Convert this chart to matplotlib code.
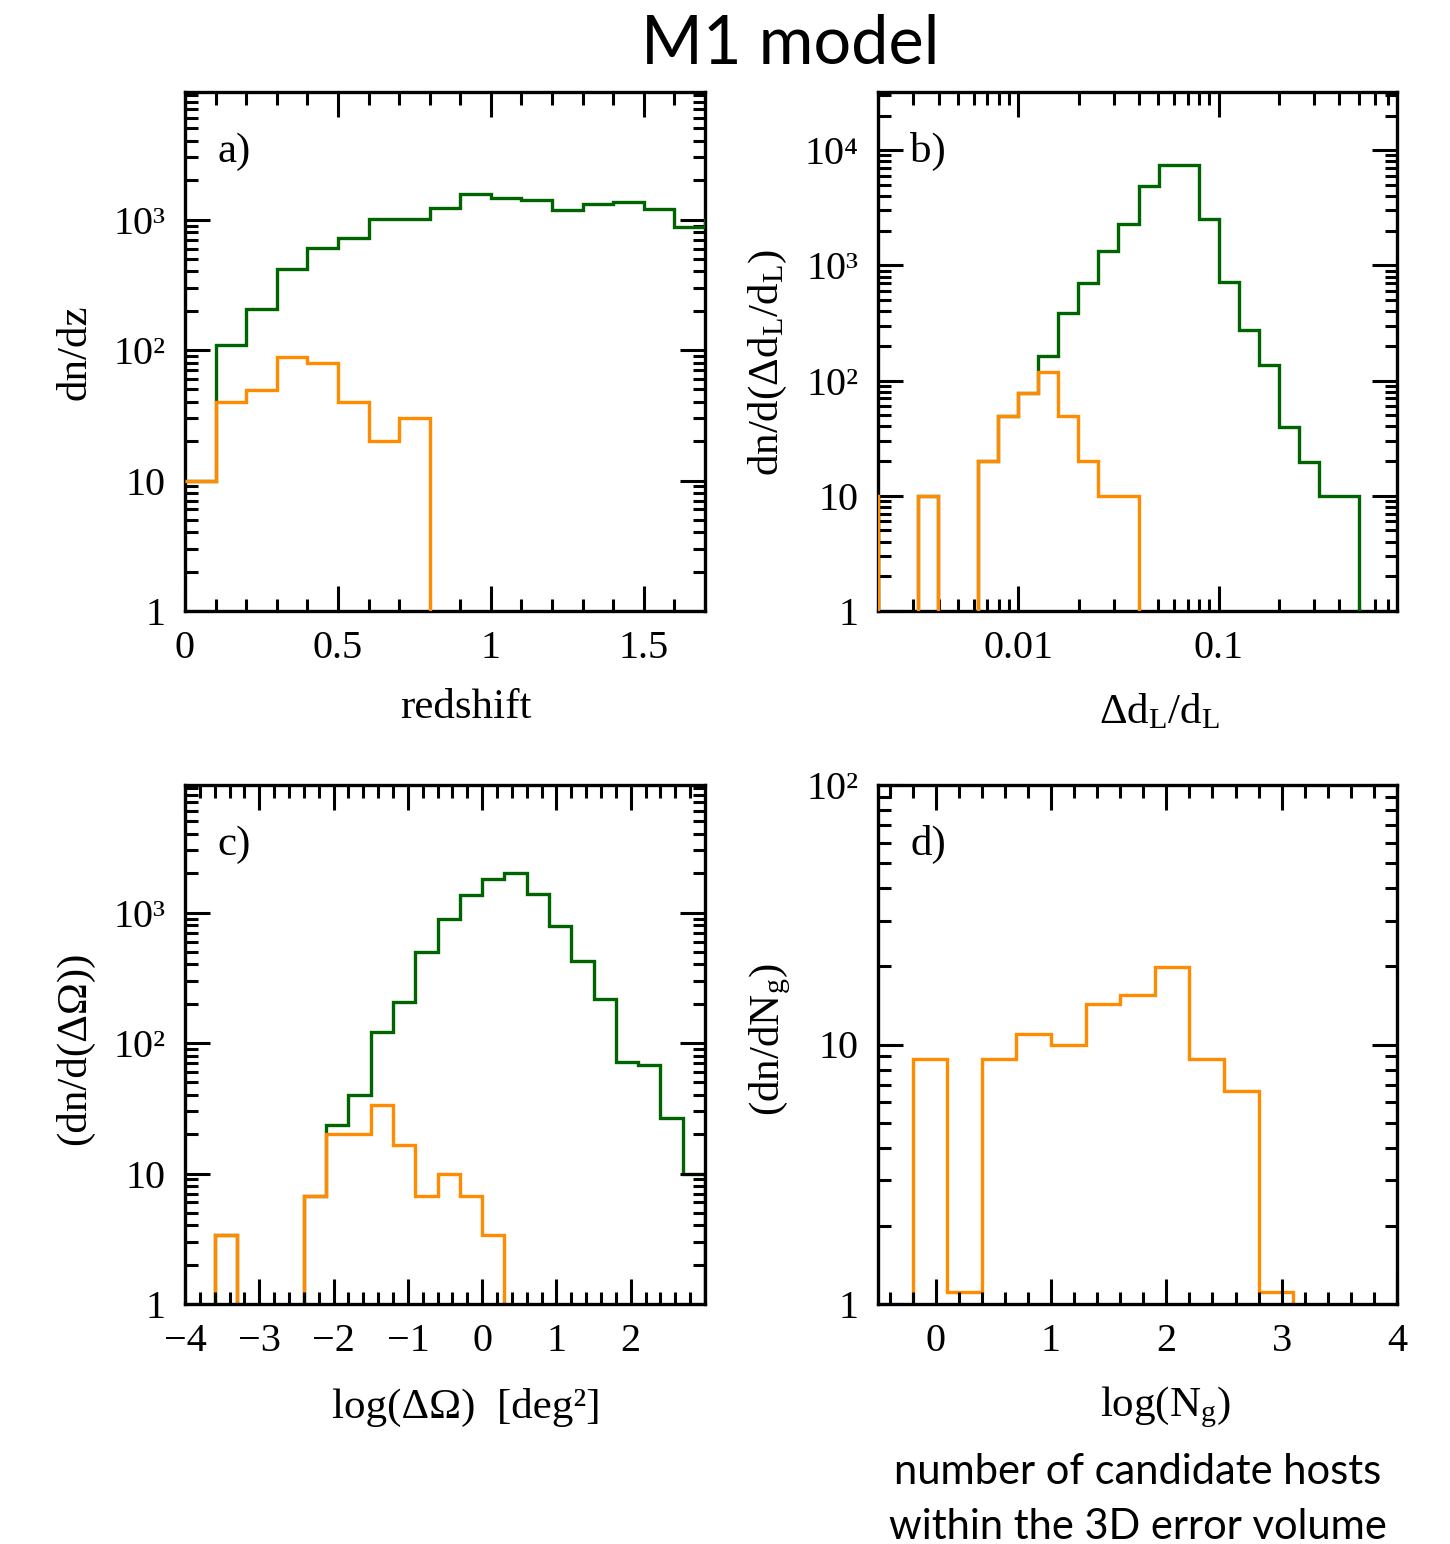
import numpy as np
import matplotlib
matplotlib.use('Agg')
import matplotlib.pyplot as plt
from matplotlib.ticker import MultipleLocator, LogLocator, FuncFormatter, NullFormatter

plt.rcParams['font.family'] = ['Liberation Serif', 'DejaVu Serif']
plt.rcParams['mathtext.fontset'] = 'custom'
plt.rcParams['mathtext.rm'] = 'Liberation Serif'
plt.rcParams['mathtext.it'] = 'Liberation Serif:italic'

GREEN = '#006400'
ORANGE = '#ff8c00'

# a) redshift distribution, bins of 0.1
z_edges = [0.0, 0.1, 0.2, 0.3, 0.4, 0.5, 0.6, 0.7, 0.8, 0.9, 1.0, 1.1, 1.2, 1.3, 1.4, 1.5, 1.6, 1.7, 1.8]
z_all = [10, 110, 208, 421, 606, 726, 1012, 1012, 1236, 1574, 1455, 1412, 1178, 1313, 1369, 1199, 871, 1000]
z_sel = [10, 40, 49, 89, 79, 40, 20, 30, 0, 0, 0, 0, 0, 0, 0, 0, 0, 0]

# b) relative distance error, log10 bin edges
dl_logedges = [-2.8, -2.7, -2.6, -2.5, -2.4, -2.3, -2.2, -2.1, -2.0, -1.9, -1.8, -1.7, -1.6,
               -1.5, -1.4, -1.3, -1.2, -1.1, -1.0, -0.9, -0.8, -0.7, -0.6, -0.5, -0.4, -0.3]
dl_all = [10, 0, 0, 10, 0, 0, 20, 49, 78, 164, 390, 700, 1327, 2301, 4930, 7510, 7410,
          2548, 724, 274, 136, 39.4, 19.5, 10, 10]
dl_sel = [10, 0, 0, 10, 0, 0, 20, 49, 78, 119, 49, 20, 10, 10, 0, 0, 0,
          0, 0, 0, 0, 0, 0, 0, 0]

# c) sky localisation
om_edges = [-3.6, -3.3, -3.0, -2.7, -2.4, -2.1, -1.8, -1.5, -1.2, -0.9, -0.6, -0.3, 0.0,
            0.3, 0.6, 0.9, 1.2, 1.5, 1.8, 2.1, 2.4, 2.7, 3.0]
om_all = [3.35, 0, 0, 0, 6.68, 23.5, 40, 121, 206, 495, 890, 1359, 1795, 2002, 1400, 789,
          423, 216, 71, 68, 26.5, 10]
om_sel = [3.35, 0, 0, 0, 6.68, 20, 20, 33.4, 16.6, 6.68, 10, 6.68, 3.35, 0, 0, 0,
          0, 0, 0, 0, 0, 0]

# d) number of candidate hosts
ng_edges = [-0.2, 0.1, 0.4, 0.7, 1.0, 1.3, 1.6, 1.9, 2.2, 2.5, 2.8, 3.1]
ng_sel = [8.83, 1.11, 8.83, 11.0, 10, 14.3, 15.5, 19.9, 8.83, 6.62, 1.11]

SUP = {'2': '\u00b2', '3': '\u00b3', '4': '\u2074'}
TICKFS = 29
LABFS = 31


def logfmt(v, pos):
    e = int(round(np.log10(v)))
    if e == 0:
        return '1'
    if e == 1:
        return '10'
    return '10' + SUP.get(str(e), '')


def clean(v):
    v = np.asarray(v, dtype=float)
    return np.where(v > 0, v, 1e-3)


def style(ax):
    ax.tick_params(which='both', direction='in', top=True, right=True,
                   labelsize=TICKFS, width=2.2, colors='black')
    ax.tick_params(which='major', length=18, pad=14)
    ax.tick_params(which='minor', length=9)
    for s in ax.spines.values():
        s.set_linewidth(2.4)


def logy(ax, lo, hi):
    ax.set_yscale('log')
    ax.set_ylim(lo, hi)
    ax.yaxis.set_major_locator(LogLocator(base=10, numticks=10))
    ax.yaxis.set_minor_locator(LogLocator(base=10, subs=np.arange(2, 10), numticks=20))
    ax.yaxis.set_major_formatter(FuncFormatter(logfmt))
    ax.yaxis.set_minor_formatter(NullFormatter())


fig = plt.figure(figsize=(14.5, 15.44), dpi=100)
W, H = 1450, 1544


def box(x0, y0, x1, y1):
    return [x0 / W, 1 - y1 / H, (x1 - x0) / W, (y1 - y0) / H]


axa = fig.add_axes(box(185, 92, 705, 611))
axb = fig.add_axes(box(878, 92, 1397, 611))
axc = fig.add_axes(box(185, 785, 705, 1304))
axd = fig.add_axes(box(878, 785, 1397, 1304))

lw = 2.4

# a
axa.stairs(clean(z_all), z_edges, color=GREEN, lw=lw, baseline=None, zorder=3)
axa.stairs(clean(z_sel), z_edges, color=ORANGE, lw=lw, baseline=None, zorder=3)
axa.set_xlim(0, 1.7)
logy(axa, 1, 9.5e3)
axa.xaxis.set_major_locator(MultipleLocator(0.5))
axa.xaxis.set_minor_locator(MultipleLocator(0.1))
axa.xaxis.set_major_formatter(FuncFormatter(lambda v, p: '%g' % v))

# b
axb.stairs(clean(dl_all), 10 ** np.array(dl_logedges), color=GREEN, lw=lw, baseline=1e-3, zorder=3)
axb.stairs(clean(dl_sel), 10 ** np.array(dl_logedges), color=ORANGE, lw=lw, baseline=1e-3, zorder=3)
axb.set_xscale('log')
axb.set_xlim(10 ** -2.7, 10 ** -0.11)
axb.xaxis.set_major_locator(LogLocator(base=10, numticks=10))
axb.xaxis.set_minor_locator(LogLocator(base=10, subs=np.arange(2, 10), numticks=20))
axb.xaxis.set_major_formatter(FuncFormatter(lambda v, p: '%g' % v))
axb.xaxis.set_minor_formatter(NullFormatter())
logy(axb, 1, 3.2e4)

# c
axc.stairs(clean(om_all), om_edges, color=GREEN, lw=lw, baseline=1e-3)
axc.stairs(clean(om_sel), om_edges, color=ORANGE, lw=lw, baseline=1e-3)
axc.set_xlim(-4, 2.999)
logy(axc, 1, 9.5e3)
axc.xaxis.set_major_locator(MultipleLocator(1))
axc.xaxis.set_minor_locator(MultipleLocator(0.2))
axc.xaxis.set_major_formatter(FuncFormatter(lambda v, p: ('\u2212%g' % -v) if v < 0 else '%g' % v))

# d
axd.stairs(clean(ng_sel), ng_edges, color=ORANGE, lw=lw, baseline=1e-3)
axd.set_xlim(-0.5, 4)
logy(axd, 1, 100)
axd.xaxis.set_major_locator(MultipleLocator(1))
axd.xaxis.set_minor_locator(MultipleLocator(0.2))
axd.xaxis.set_major_formatter(FuncFormatter(lambda v, p: '%g' % v))

for ax, lab in [(axa, 'a)'), (axb, 'b)'), (axc, 'c)'), (axd, 'd)')]:
    style(ax)
    ax.text(0.062, 0.885, lab, transform=ax.transAxes, fontsize=LABFS, va='center', ha='left')

# axis labels
fig.text(466 / W, 1 - 708 / H, 'redshift', fontsize=LABFS, ha='center', va='center')
fig.text(1160 / W, 1 - 712 / H, r'$\Delta$d$_\mathrm{L}$/d$_\mathrm{L}$', fontsize=LABFS, ha='center', va='center')
fig.text(466 / W, 1 - 1407 / H, 'log(\u0394\u03a9)  [deg\u00b2]', fontsize=LABFS, ha='center', va='center')
fig.text(1166 / W, 1 - 1407 / H, r'log(N$_\mathrm{g}$)', fontsize=LABFS, ha='center', va='center')

fig.text(75 / W, 1 - 352 / H, 'dn/dz', fontsize=LABFS, rotation=90, ha='center', va='center')
fig.text(768 / W, 1 - 362 / H, r'dn/d($\Delta$d$_\mathrm{L}$/d$_\mathrm{L}$)', fontsize=LABFS, rotation=90, ha='center', va='center')
fig.text(75 / W, 1 - 1048 / H, '(dn/d(\u0394\u03a9))', fontsize=LABFS, rotation=90, ha='center', va='center')
fig.text(770 / W, 1 - 1040 / H, r'(dn/dN$_\mathrm{g}$)', fontsize=LABFS, rotation=90, ha='center', va='center')

# title and note
fig.text(790 / W, 1 - 45 / H, 'M1 model', fontsize=48, family='Lato', ha='center', va='center')
fig.text(1138 / W, 1 - 1472 / H, 'number of candidate hosts', fontsize=30, family='Lato', ha='center', va='center')
fig.text(1138 / W, 1 - 1527 / H, 'within the 3D error volume', fontsize=30, family='Lato', ha='center', va='center')

fig.savefig('out.png', dpi=100)
